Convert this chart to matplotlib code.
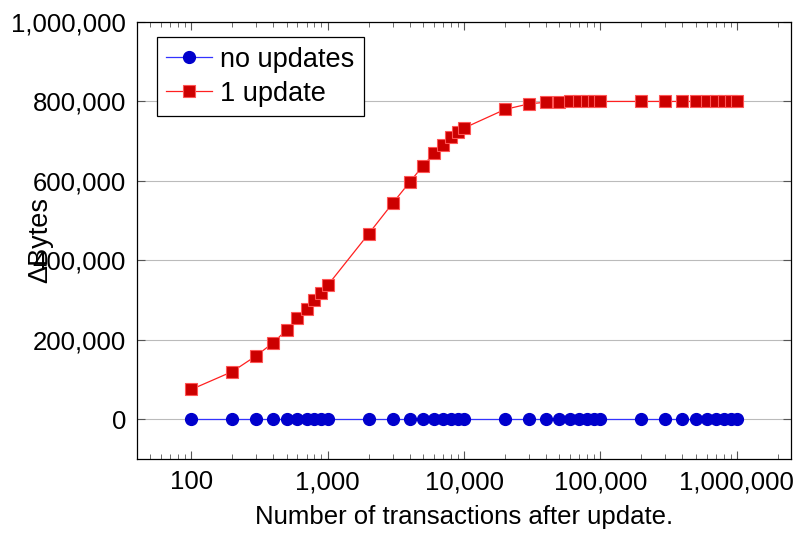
import matplotlib
matplotlib.use("Agg")
import matplotlib.pyplot as plt
from matplotlib.ticker import FuncFormatter, LogLocator, NullFormatter

plt.rcParams['font.family'] = ['Liberation Sans', 'DejaVu Sans']

transactions = [100, 200, 300, 400, 500, 600, 700, 800, 900,
                1000, 2000, 3000, 4000, 5000, 6000, 7000, 8000, 9000,
                10000, 20000, 30000, 40000, 50000, 60000, 70000, 80000, 90000,
                100000, 200000, 300000, 400000, 500000, 600000, 700000, 800000, 900000,
                1000000]
no_updates = [0] * len(transactions)
one_update = [75000, 120000, 160000, 193000, 225000, 256000, 278000, 300000, 318000,
              337000, 467000, 544000, 597000, 638000, 669000, 690000, 710000, 722000,
              733000, 780000, 794000, 798000, 799000, 800000, 800000, 800000, 800000,
              800000, 800000, 800000, 800000, 800000, 800000, 800000, 800000, 800000,
              800000]

fig = plt.figure(figsize=(7.97, 5.35), dpi=100)
ax = fig.add_axes([0.1719, 0.1421, 0.8206, 0.8168])

ax.plot(transactions, no_updates, color='#3333ff', lw=0.9, marker='o', ms=8.5,
        mfc='#0000cc', mec='#0000cc', label='no updates', zorder=3)
ax.plot(transactions, one_update, color='#ff2020', lw=0.9, marker='s', ms=8.5,
        mfc='#cc0000', mec='#ff5555', mew=0.8, label='1 update', zorder=3)

ax.set_xscale('log')
ax.set_xlim(40, 2.5e6)
ax.set_ylim(-100000, 1000000)
ax.set_yticks([0, 200000, 400000, 600000, 800000, 1000000])
ax.set_xticks([100, 1000, 10000, 100000, 1000000])
ax.xaxis.set_minor_locator(LogLocator(base=10, subs=range(2, 10), numticks=20))
ax.xaxis.set_minor_formatter(NullFormatter())
fmt = FuncFormatter(lambda v, p: '{:,.0f}'.format(v))
ax.xaxis.set_major_formatter(fmt)
ax.yaxis.set_major_formatter(fmt)

ax.grid(True, axis='y', color='#bbbbbb', lw=0.8, zorder=0)
ax.tick_params(which='both', direction='in', top=True, right=True,
               labelsize=18.5, color='#555555')
ax.tick_params(which='major', length=6, width=0.8, pad=8)
ax.tick_params(which='minor', length=3.5, width=0.6)
for s in ax.spines.values():
    s.set_linewidth(0.9)

ax.set_xlabel('Number of transactions after update.', fontsize=18.5, labelpad=8)
ax.set_ylabel('ΔBytes', fontsize=19.5)
ax.yaxis.set_label_coords(-0.128, 0.5)

leg = ax.legend(loc='upper left', fontsize=19.5, fancybox=False, framealpha=1,
                edgecolor='black', borderpad=0.35, handlelength=1.7,
                handletextpad=0.3, labelspacing=0.3, borderaxespad=0,
                bbox_to_anchor=(0.03, 0.965))
leg.get_frame().set_linewidth(0.9)

fig.savefig('out.png', dpi=100)
